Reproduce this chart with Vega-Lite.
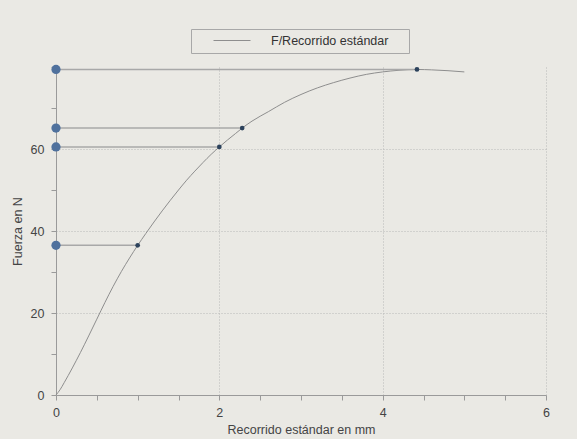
{
  "$schema": "https://vega.github.io/schema/vega-lite/v6.json",
  "width": 490,
  "height": 328,
  "autosize": "none",
  "padding": {"left": 56, "top": 67, "right": 31, "bottom": 44},
  "background": "#eae9e4",
  "config": {
    "view": {"stroke": null},
    "font": "Liberation Sans",
    "axis": {
      "domainColor": "#9a9a9a",
      "tickColor": "#9a9a9a",
      "tickSize": 5,
      "labelFlush": false,
      "labelFont": "Liberation Sans",
      "labelFontSize": 12.5,
      "labelColor": "#444444",
      "titleFont": "Liberation Sans",
      "titleFontSize": 12.5,
      "titleFontWeight": "normal",
      "titleColor": "#444444",
      "gridColor": "#b8b8b8",
      "gridDash": [1, 2],
      "gridWidth": 1
    }
  },
  "datasets": {
    "curve": [
      {"x": 0, "y": 0},
      {"x": 0.05, "y": 1.3},
      {"x": 0.1, "y": 3.0},
      {"x": 0.2, "y": 6.6},
      {"x": 0.3, "y": 10.4},
      {"x": 0.4, "y": 14.4},
      {"x": 0.5, "y": 18.5},
      {"x": 0.6, "y": 22.6},
      {"x": 0.7, "y": 26.5},
      {"x": 0.8, "y": 30.1},
      {"x": 0.9, "y": 33.4},
      {"x": 1.0, "y": 36.5},
      {"x": 1.1, "y": 39.4},
      {"x": 1.2, "y": 42.2},
      {"x": 1.3, "y": 44.9},
      {"x": 1.4, "y": 47.5},
      {"x": 1.5, "y": 50.0},
      {"x": 1.6, "y": 52.4},
      {"x": 1.7, "y": 54.6},
      {"x": 1.8, "y": 56.7},
      {"x": 1.9, "y": 58.7},
      {"x": 2.0, "y": 60.5},
      {"x": 2.1, "y": 62.2},
      {"x": 2.2, "y": 63.8},
      {"x": 2.28, "y": 65.1},
      {"x": 2.4, "y": 66.8},
      {"x": 2.6, "y": 69.1},
      {"x": 2.8, "y": 71.4},
      {"x": 3.0, "y": 73.3},
      {"x": 3.2, "y": 74.9},
      {"x": 3.4, "y": 76.2},
      {"x": 3.6, "y": 77.3},
      {"x": 3.8, "y": 78.2},
      {"x": 4.0, "y": 78.8},
      {"x": 4.2, "y": 79.2},
      {"x": 4.42, "y": 79.4},
      {"x": 4.6, "y": 79.3},
      {"x": 4.8, "y": 79.1},
      {"x": 5.0, "y": 78.8}
    ],
    "points": [
      {"x": 1.0, "y": 36.5},
      {"x": 2.0, "y": 60.5},
      {"x": 2.28, "y": 65.1},
      {"x": 4.42, "y": 79.4}
    ]
  },
  "layer": [
    {
      "data": {"name": "curve"},
      "mark": {"type": "line", "strokeWidth": 1, "interpolate": "monotone"},
      "encoding": {
        "x": {
          "field": "x",
          "type": "quantitative",
          "scale": {"domain": [0, 6], "nice": false},
          "axis": {
            "values": [0, 0.5, 1, 1.5, 2, 2.5, 3, 3.5, 4, 4.5, 5, 5.5, 6],
            "format": "~g",
            "labelExpr": "datum.value % 2 == 0 ? datum.label : ''",
            "grid": true,
            "gridOpacity": {"condition": {"test": "datum.value % 2 == 0 && datum.value > 0", "value": 1}, "value": 0},
            "labelPadding": 6,
            "titlePadding": 5,
            "title": "Recorrido estándar en mm"
          }
        },
        "y": {
          "field": "y",
          "type": "quantitative",
          "scale": {"domain": [0, 80], "nice": false},
          "axis": {
            "values": [0, 5, 10, 15, 20, 25, 30, 35, 40, 45, 50, 55, 60, 65, 70, 75, 80],
            "labelExpr": "datum.value % 20 == 0 && datum.value < 80 ? datum.label : ''",
            "grid": true,
            "gridOpacity": {"condition": {"test": "datum.value % 20 == 0 && datum.value > 0 && datum.value < 80", "value": 1}, "value": 0},
            "labelPadding": 7,
            "titlePadding": 6,
            "title": "Fuerza en N"
          }
        },
        "color": {
          "datum": "F/Recorrido estándar",
          "type": "nominal",
          "scale": {"range": ["#8e8e8e"]},
          "legend": {
            "orient": "none",
            "legendX": 135,
            "legendY": -38,
            "title": "\u00a0",
            "titleOrient": "right",
            "titlePadding": 16,
            "titleFontSize": 12.5,
            "symbolType": "stroke",
            "symbolSize": 1369,
            "symbolStrokeWidth": 1,
            "labelFont": "Liberation Sans",
            "labelFontSize": 12.5,
            "labelColor": "#333333",
            "labelOffset": 20,
            "strokeColor": "#a8a8a8",
            "padding": 5,
            "symbolOffset": 17,
            "clipHeight": 13,
            "labelLimit": 300
          }
        }
      }
    },
    {
      "data": {"name": "points"},
      "mark": {"type": "rule", "color": "#a8a8a8", "strokeWidth": 1.5},
      "encoding": {
        "x": {"field": "x", "type": "quantitative"},
        "x2": {"datum": 0},
        "y": {"field": "y", "type": "quantitative"}
      }
    },
    {
      "data": {"name": "points"},
      "mark": {"type": "circle", "size": 85, "color": "#4f719d", "opacity": 1},
      "encoding": {
        "x": {"datum": 0, "type": "quantitative"},
        "y": {"field": "y", "type": "quantitative"}
      }
    },
    {
      "data": {"name": "points"},
      "mark": {"type": "circle", "size": 22, "color": "#2c425c", "opacity": 1},
      "encoding": {
        "x": {"field": "x", "type": "quantitative"},
        "y": {"field": "y", "type": "quantitative"}
      }
    }
  ]
}
